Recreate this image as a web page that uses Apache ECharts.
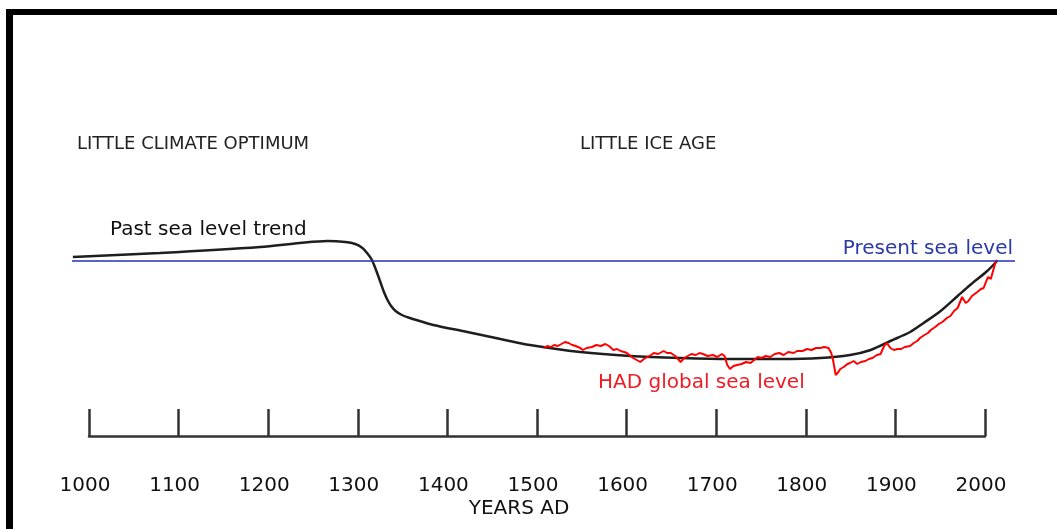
<!DOCTYPE html>
<html>
<head>
<meta charset="utf-8">
<script src="https://cdn.jsdelivr.net/npm/echarts@6/dist/echarts.min.js"></script>
<style>
  html, body { margin: 0; padding: 0; background: #fff; }
  #main { width: 1057px; height: 529px; }
</style>
</head>
<body>
<div id="main"></div>
<script>
// sea level relative to present (arbitrary units, 0 = present sea level)
var trendYears = [982, 1079, 1191, 1235, 1266, 1286, 1297, 1305, 1311, 1315, 1318, 1321, 1325, 1329, 1333, 1337, 1342,
  1349, 1358, 1369, 1384, 1422, 1459, 1492, 1548, 1604, 1660, 1715, 1771, 1816, 1849, 1872, 1894, 1916,
  1931, 1950, 1969, 1983, 2002, 2013];
var trendLevel = [0.04, 0.08, 0.14, 0.18, 0.20, 0.19, 0.17, 0.13, 0.07, 0.02, -0.04, -0.11, -0.21, -0.31, -0.39, -0.45, -0.50,
  -0.54, -0.57, -0.60, -0.64, -0.71, -0.78, -0.84, -0.91, -0.95, -0.97, -0.98, -0.98, -0.97, -0.94, -0.89, -0.80, -0.71,
  -0.62, -0.50, -0.35, -0.24, -0.10, 0.0];

var hadYears = [1507, 1511, 1515, 1519, 1523, 1527, 1531, 1535, 1539, 1543, 1548, 1551, 1555, 1561, 1566, 1571,
  1576, 1580, 1585, 1589, 1593, 1597, 1600, 1604, 1607, 1611, 1615, 1619, 1623, 1627, 1630, 1635, 1641, 1645,
  1649, 1654, 1657, 1660, 1664, 1668, 1672, 1677, 1681, 1685, 1690, 1696, 1701, 1706, 1709, 1712, 1715, 1719,
  1723, 1728, 1733, 1738, 1742, 1746, 1750, 1755, 1760, 1765, 1770, 1775, 1780, 1786, 1790, 1796, 1801, 1806,
  1811, 1816, 1820, 1825, 1828, 1830, 1833, 1836, 1838, 1842, 1846, 1849, 1853, 1857, 1861, 1866, 1870, 1874,
  1879, 1883, 1887, 1890, 1894, 1898, 1902, 1906, 1910, 1916, 1920, 1924, 1927, 1932, 1936, 1939, 1944, 1948,
  1952, 1957, 1961, 1965, 1969, 1974, 1978, 1981, 1985, 1988, 1991, 1995, 1998, 2001, 2003, 2006, 2008, 2011, 2013];
var hadLevel = [-0.87, -0.85, -0.86, -0.84, -0.85, -0.83, -0.81, -0.82, -0.84, -0.85, -0.87, -0.89, -0.87, -0.86, -0.84, -0.85,
  -0.83, -0.85, -0.89, -0.88, -0.90, -0.91, -0.92, -0.95, -0.97, -0.99, -1.01, -0.98, -0.96, -0.94, -0.92, -0.93, -0.90, -0.92,
  -0.92, -0.95, -0.98, -1.01, -0.97, -0.95, -0.93, -0.94, -0.92, -0.93, -0.95, -0.94, -0.96, -0.93, -0.95, -1.04, -1.08, -1.05,
  -1.04, -1.03, -1.01, -1.02, -0.99, -0.96, -0.97, -0.95, -0.96, -0.93, -0.92, -0.94, -0.91, -0.92, -0.90, -0.90, -0.88, -0.89,
  -0.87, -0.87, -0.86, -0.87, -0.92, -0.99, -1.14, -1.11, -1.08, -1.06, -1.03, -1.02, -1.00, -1.03, -1.01, -1.00, -0.98, -0.97,
  -0.94, -0.93, -0.85, -0.82, -0.87, -0.89, -0.88, -0.88, -0.86, -0.85, -0.82, -0.80, -0.77, -0.74, -0.72, -0.69, -0.66, -0.63,
  -0.61, -0.57, -0.55, -0.50, -0.47, -0.36, -0.42, -0.40, -0.35, -0.33, -0.31, -0.28, -0.27, -0.20, -0.16, -0.18, -0.17, -0.02, 0.01];

var presentYears = [981, 2033];
var presentLevel = [0, 0];

var yearTicks = [1000, 1100, 1200, 1300, 1400, 1500, 1600, 1700, 1800, 1900, 2000];

function pairs(xs, ys) {
  var out = [];
  for (var i = 0; i < xs.length; i++) out.push([xs[i], ys[i]]);
  return out;
}

var chart = echarts.init(document.getElementById('main'));
var font = '"DejaVu Sans", sans-serif';

var option = {
  animation: false,
  backgroundColor: '#fff',
  grid: [
    { left: 72, right: 42, top: 161, bottom: 68 },
    { left: 89, right: 72, top: 380, bottom: 93 }
  ],
  xAxis: [{
    gridIndex: 0, type: 'value', min: 981, max: 2033, show: false
  }, {
    gridIndex: 1, type: 'value',
    min: yearTicks[0], max: yearTicks[yearTicks.length - 1], interval: 100,
    axisLine: { show: true, lineStyle: { color: '#333', width: 2.5 } },
    axisTick: { show: true, inside: true, length: 27, lineStyle: { color: '#333', width: 2.5 } },
    splitLine: { show: false },
    axisLabel: {
      color: '#111', fontSize: 20, fontFamily: font, margin: 40, padding: [0, 8, 0, 0],
      formatter: function (v) { return String(v); }
    },
    name: 'YEARS AD',
    nameLocation: 'middle',
    nameGap: 63,
    nameTextStyle: { color: '#111', fontSize: 20, fontFamily: font, padding: [0, 36, 0, 0] }
  }],
  yAxis: [
    { gridIndex: 0, type: 'value', min: -2, max: 1, show: false },
    { gridIndex: 1, type: 'value', min: 0, max: 1, show: false }
  ],
  series: [{
    name: 'Past sea level trend',
    type: 'line',
    xAxisIndex: 0, yAxisIndex: 0,
    data: pairs(trendYears, trendLevel),
    smooth: 0.3,
    showSymbol: false,
    lineStyle: { color: '#1e1e1e', width: 2.5 },
    z: 2
  }, {
    name: 'HAD global sea level',
    type: 'line',
    xAxisIndex: 0, yAxisIndex: 0,
    data: pairs(hadYears, hadLevel),
    showSymbol: false,
    lineStyle: { color: '#ff0000', width: 2 },
    z: 3
  }, {
    name: 'Present sea level',
    type: 'line',
    xAxisIndex: 0, yAxisIndex: 0,
    data: pairs(presentYears, presentLevel),
    showSymbol: false,
    lineStyle: { color: '#2030b0', width: 1.5 },
    z: 4
  }],
  graphic: [
    { type: 'rect', shape: { x: 6, y: 9, width: 1051, height: 6 }, style: { fill: '#000' } },
    { type: 'rect', shape: { x: 6, y: 9, width: 7, height: 520 }, style: { fill: '#000' } },
    { type: 'text', x: 77, y: 144, style: { text: 'LITTLE CLIMATE OPTIMUM', fill: '#222', font: '18px ' + font, verticalAlign: 'middle' } },
    { type: 'text', x: 580, y: 144, style: { text: 'LITTLE ICE AGE', fill: '#222', font: '18px ' + font, verticalAlign: 'middle' } },
    { type: 'text', x: 110, y: 230, style: { text: 'Past sea level trend', fill: '#111', font: '20px ' + font, verticalAlign: 'middle' } },
    { type: 'text', x: 1013, y: 249, style: { text: 'Present sea level', fill: '#2a3aa8', font: '20px ' + font, align: 'right', verticalAlign: 'middle' } },
    { type: 'text', x: 598, y: 383, style: { text: 'HAD global sea level', fill: '#ee1c24', font: '20px ' + font, verticalAlign: 'middle' } }
  ]
};

chart.setOption(option);
</script>
</body>
</html>
